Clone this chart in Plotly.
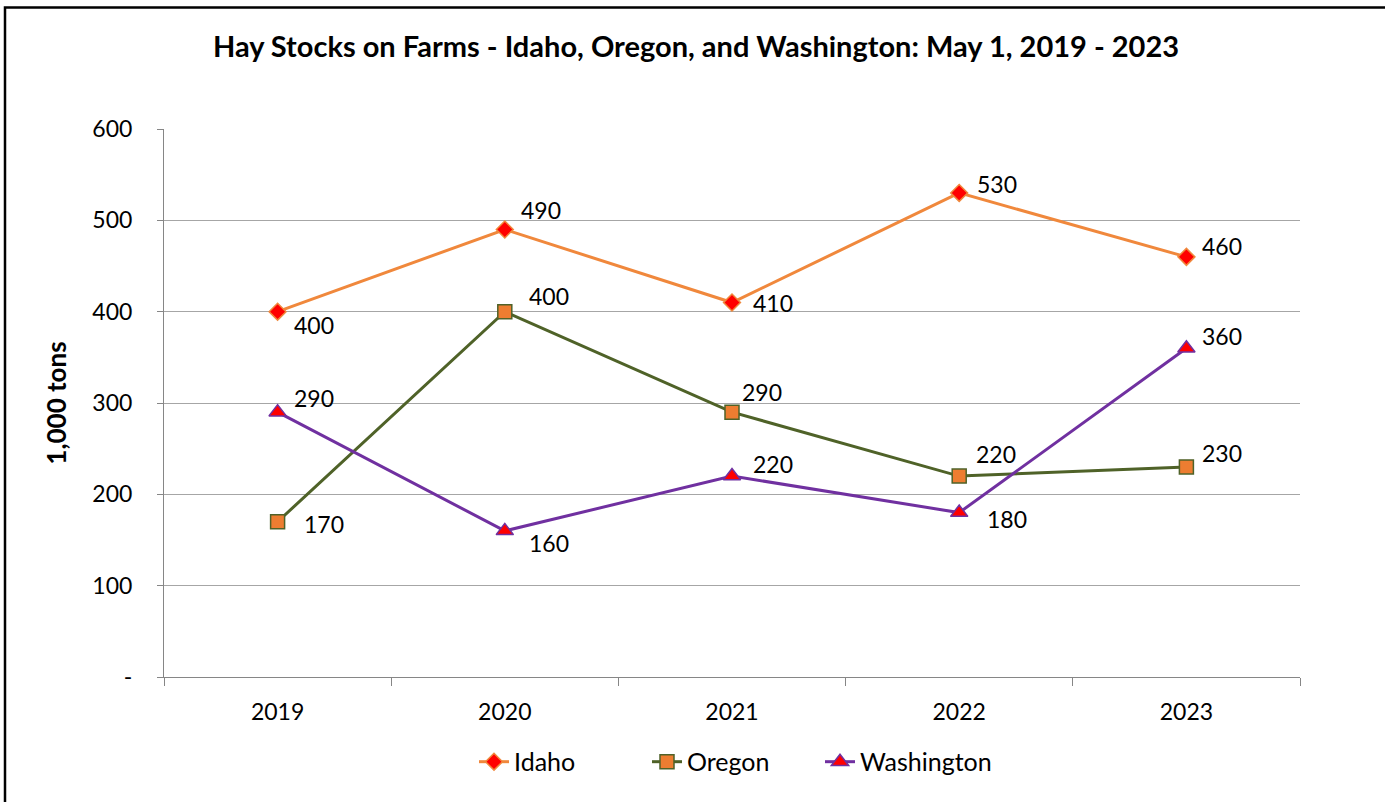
import plotly.graph_objects as go

years = ["2019", "2020", "2021", "2022", "2023"]
idaho = [400, 490, 410, 530, 460]
oregon = [170, 400, 290, 220, 230]
washington = [290, 160, 220, 180, 360]

# label offsets (px) relative to each marker: (dx, dy) with dy positive = up
idaho_off = [(14, -13), (14, 19), (19, 0), (16, 9), (14, 11)]
oregon_off = [(24, -2), (22, 16), (8, 20), (15, 22), (14, 14)]
wash_off = [(14, 14), (22, -12), (19, 12), (26, -6), (14, 12)]

FONT = "Lato, Carlito, Calibri, sans-serif"

fig = go.Figure()
fig.add_trace(go.Scatter(
    x=years, y=idaho, name="Idaho", mode="lines+markers",
    line=dict(color="#F0883C", width=3),
    marker=dict(symbol="diamond", size=13, color="#FF0000",
                line=dict(color="#F0883C", width=1.5)),
))
fig.add_trace(go.Scatter(
    x=years, y=oregon, name="Oregon", mode="lines+markers",
    line=dict(color="#4F6228", width=3),
    marker=dict(symbol="square", size=14, color="#ED7D31",
                line=dict(color="#4F6228", width=1.5)),
))
fig.add_trace(go.Scatter(
    x=years, y=washington, name="Washington", mode="lines+markers",
    line=dict(color="#7030A0", width=3),
    marker=dict(symbol="triangle-up", size=15, color="#FF0000",
                line=dict(color="#7030A0", width=1.5)),
))

annotations = []
for vals, offs in [(idaho, idaho_off), (oregon, oregon_off), (washington, wash_off)]:
    for i, (v, (dx, dy)) in enumerate(zip(vals, offs)):
        annotations.append(dict(
            x=i, y=v, xref="x", yref="y", text=str(v), showarrow=False,
            xanchor="left", yanchor="middle", xshift=dx, yshift=dy,
            font=dict(family=FONT, size=23, color="#000000"),
        ))

fig.update_layout(
    width=1385, height=802,
    margin=dict(l=164, r=85, t=129, b=125),
    paper_bgcolor="white", plot_bgcolor="white",
    title=dict(
        text="<b>Hay Stocks on Farms - Idaho, Oregon, and Washington: May 1, 2019 - 2023</b>",
        x=696 / 1385, xanchor="center", y=1 - 47 / 802, yanchor="middle",
        font=dict(family=FONT, size=29, color="#000000"),
    ),
    font=dict(family=FONT, size=23, color="#000000"),
    showlegend=True,
    legend=dict(
        orientation="h", x=(474 - 164) / 1136, xanchor="left",
        y=-0.155, yanchor="middle",
        font=dict(family=FONT, size=25, color="#000000"),
        traceorder="normal", entrywidth=128, entrywidthmode="pixels",
    ),
    annotations=annotations,
    shapes=[dict(type="rect", xref="paper", yref="paper",
                 x0=(5 - 164) / 1136, x1=(1400 - 164) / 1136,
                 y0=(677 - 820) / 548, y1=(677 - 7.5) / 548,
                 line=dict(color="#000000", width=2.5), layer="below")],
)

fig.update_xaxes(
    type="category", range=[-0.5, 4.5], tickson="boundaries",
    ticks="outside", ticklen=8, tickcolor="#868686",
    showline=True, linecolor="#868686", linewidth=1,
    showgrid=False, tickfont=dict(family=FONT, size=23),
    ticklabelstandoff=14,
)
fig.update_yaxes(
    range=[0, 600], tickvals=[0, 100, 200, 300, 400, 500, 600],
    ticktext=["-", "100", "200", "300", "400", "500", "600"],
    ticks="outside", ticklen=6, tickcolor="#868686",
    showline=True, linecolor="#868686", linewidth=1,
    showgrid=True, gridcolor="#A6A6A6", gridwidth=1,
    tickfont=dict(family=FONT, size=23), ticklabelstandoff=20,
    title=dict(text="<b>1,000 tons</b>", font=dict(family=FONT, size=26), standoff=18),
    zeroline=False,
)

fig.write_html("out.html", config={"displayModeBar": False},
               post_script="document.body.style.margin='0';")
